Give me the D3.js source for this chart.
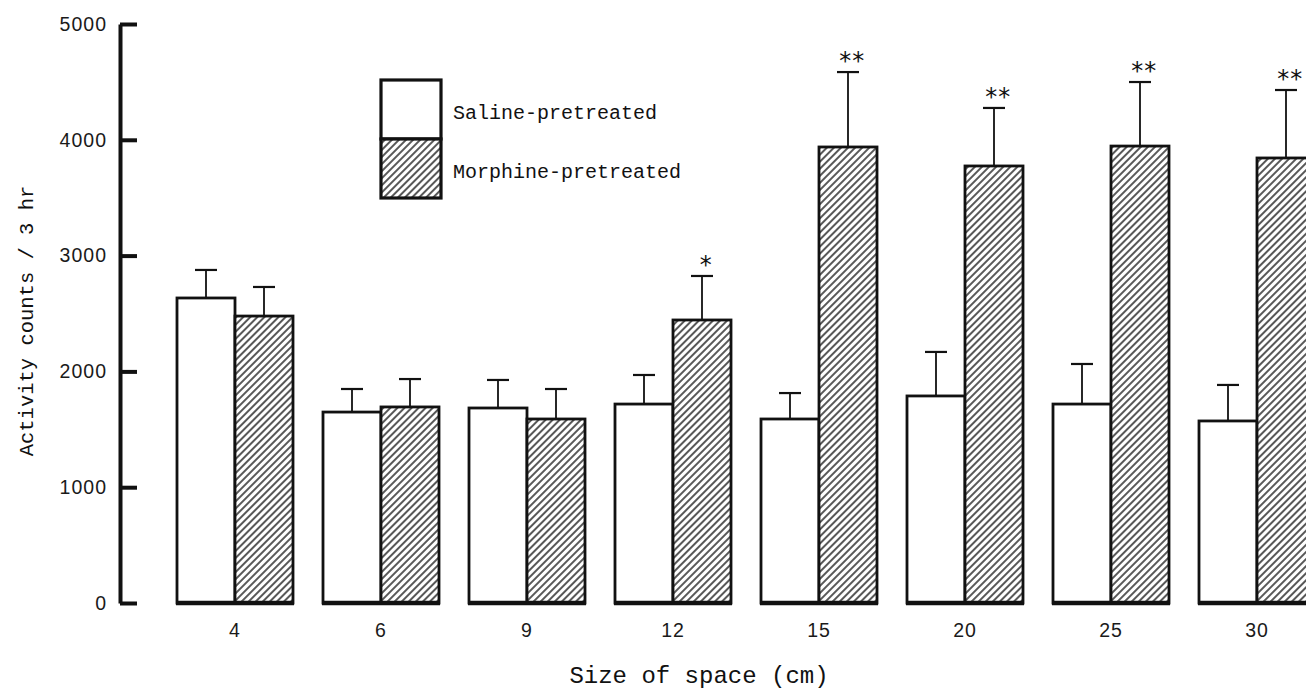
<!DOCTYPE html>
<html>
<head>
<meta charset="utf-8">
<script src="https://cdn.jsdelivr.net/npm/d3@7/dist/d3.min.js"></script>
<style>
  html, body { margin: 0; padding: 0; background: #fff; overflow: hidden; }
  svg { display: block; }
</style>
</head>
<body>
<svg id="chart" width="1306" height="689"></svg>
<script>
// ---- data ----
const categories = ["4", "6", "9", "12", "15", "20", "25", "30"];
const seriesNames = ["Saline-pretreated", "Morphine-pretreated"];
const salineMean = [2634, 1649, 1684, 1718, 1589, 1788, 1718, 1572];
const salineErr  = [242, 199, 242, 251, 224, 380, 346, 311];
const morphineMean = [2478, 1693, 1589, 2444, 3938, 3774, 3946, 3843];
const morphineErr  = [251, 241, 259, 380, 647, 501, 553, 587];
const morphineSig  = ["", "", "", "*", "**", "**", "**", "**"];
const yTicks = [0, 1000, 2000, 3000, 4000, 5000];
const yLabel = "Activity counts / 3 hr";
const xLabel = "Size of space (cm)";

// ---- build ----
const svg = d3.select("#chart");
const defs = svg.append("defs");
const pat = defs.append("pattern")
  .attr("id", "hatch")
  .attr("patternUnits", "userSpaceOnUse")
  .attr("width", 5).attr("height", 5)
  .attr("patternTransform", "rotate(45)");
pat.append("rect").attr("width", 5).attr("height", 5).attr("fill", "#fff");
pat.append("line").attr("x1", 1).attr("y1", -1).attr("x2", 1).attr("y2", 6)
  .attr("stroke", "#111").attr("stroke-width", 1.4);

const y = d3.scaleLinear().domain([0, 5000]).range([603, 24]);
const x0 = d3.scaleBand().domain(categories).range([162, 1330])
  .paddingInner(0.2055).paddingOuter(0.10275);
const x1 = d3.scaleBand().domain(seriesNames).range([0, x0.bandwidth()]);

const rows = categories.map((c, i) => ({
  cat: c,
  bars: [
    { s: seriesNames[0], v: salineMean[i], e: salineErr[i], sig: "" },
    { s: seriesNames[1], v: morphineMean[i], e: morphineErr[i], sig: morphineSig[i] }
  ]
}));

const fillFor = s => s === seriesNames[0] ? "#fff" : "url(#hatch)";

const groups = svg.append("g").selectAll("g").data(rows).join("g")
  .attr("transform", d => `translate(${x0(d.cat)},0)`);

// error bars
groups.selectAll("g.err").data(d => d.bars).join("g").attr("class", "err")
  .each(function(d) {
    const g = d3.select(this);
    const cx = x1(d.s) + x1.bandwidth() / 2;
    g.append("line").attr("x1", cx).attr("x2", cx)
      .attr("y1", y(d.v)).attr("y2", y(d.v + d.e))
      .attr("stroke", "#111").attr("stroke-width", 1.8);
    g.append("line").attr("x1", cx - 11).attr("x2", cx + 11)
      .attr("y1", y(d.v + d.e)).attr("y2", y(d.v + d.e))
      .attr("stroke", "#111").attr("stroke-width", 2.2);
    if (d.sig) {
      g.append("text").attr("x", cx + 3).attr("y", y(d.v + d.e) - 3)
        .attr("text-anchor", "middle")
        .attr("font-family", "'DejaVu Sans Mono', monospace")
        .attr("font-size", 24).attr("fill", "#111")
        .attr("letter-spacing", -1.5)
        .text(d.sig);
    }
  });

// bars
groups.selectAll("rect").data(d => d.bars).join("rect")
  .attr("x", d => x1(d.s))
  .attr("y", d => y(d.v))
  .attr("width", x1.bandwidth())
  .attr("height", d => y(0) - y(d.v))
  .attr("fill", d => fillFor(d.s))
  .attr("stroke", "#111").attr("stroke-width", 2.8);

// thick bottoms
groups.append("line")
  .attr("x1", -1).attr("x2", x0.bandwidth() + 1)
  .attr("y1", y(0)).attr("y2", y(0))
  .attr("stroke", "#111").attr("stroke-width", 4.5);

// y axis
const yAxis = svg.append("g").attr("transform", "translate(120,0)")
  .call(d3.axisLeft(y).tickValues(yTicks).tickFormat(d3.format("d"))
    .tickSizeInner(-17).tickSizeOuter(0).tickPadding(13));
yAxis.select(".domain").attr("stroke", "#111").attr("stroke-width", 4);
yAxis.selectAll(".tick line").attr("stroke", "#111").attr("stroke-width", 4);
yAxis.selectAll(".tick text")
  .attr("font-family", "'Liberation Sans', 'DejaVu Sans', sans-serif")
  .attr("font-size", 19.5).attr("fill", "#1a1a1a").attr("letter-spacing", 1);

// x axis labels
const xAxis = svg.append("g").attr("transform", `translate(0,${y(0)})`)
  .call(d3.axisBottom(x0).tickSize(0).tickPadding(20));
xAxis.select(".domain").remove();
xAxis.selectAll(".tick text")
  .attr("font-family", "'Liberation Sans', 'DejaVu Sans', sans-serif")
  .attr("font-size", 19.5).attr("fill", "#1a1a1a").attr("letter-spacing", 1);

// axis titles
svg.append("text")
  .attr("transform", "translate(33,321) rotate(-90)")
  .attr("text-anchor", "middle")
  .attr("font-family", "'Liberation Mono', 'Courier New', monospace")
  .attr("font-size", 20.5).attr("fill", "#111")
  .text(yLabel);
svg.append("text")
  .attr("x", 699).attr("y", 683)
  .attr("text-anchor", "middle")
  .attr("font-family", "'Liberation Mono', 'Courier New', monospace")
  .attr("font-size", 24).attr("fill", "#111")
  .text(xLabel);

// legend
const leg = svg.append("g");
const legBoxes = [
  { s: seriesNames[0], y0: 80, y1: 139 },
  { s: seriesNames[1], y0: 139, y1: 198 }
];
leg.selectAll("rect").data(legBoxes).join("rect")
  .attr("x", 381).attr("y", d => d.y0)
  .attr("width", 60).attr("height", d => d.y1 - d.y0)
  .attr("fill", d => fillFor(d.s))
  .attr("stroke", "#111").attr("stroke-width", 3.2);
leg.selectAll("text").data(legBoxes).join("text")
  .attr("x", 453).attr("y", d => d.y0 + 39)
  .attr("font-family", "'Liberation Mono', 'Courier New', monospace")
  .attr("font-size", 20).attr("fill", "#111")
  .text(d => d.s);
</script>
</body>
</html>
